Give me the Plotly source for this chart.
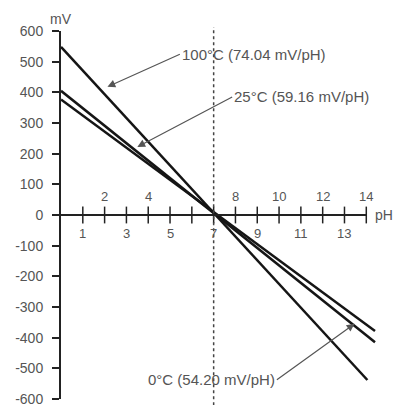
import plotly.graph_objects as go

# ---- data ----
series_names = ["100°C", "25°C", "0°C"]
series_ph = [[0, 14.05], [0, 14.4], [0, 14.4]]
series_mv = [[548, -538], [405, -415], [377, -378]]

y_ticks = [-600, -500, -400, -300, -200, -100, 0, 100, 200, 300, 400, 500, 600]
y_tick_labels = ["-600", "-500", "-400", "-300", "-200", "-100", "0",
                 "100", "200", "300", "400", "500", "600"]
x_ticks = list(range(1, 15))
x_labels_above = [2, 4, 8, 10, 12, 14]
x_labels_below = [1, 3, 5, 7, 9, 11, 13]

ann_texts = ["100°C (74.04 mV/pH)", "25°C (59.16 mV/pH)", "0°C (54.20 mV/pH)"]
ann_head_ph = [2.13, 3.5, 13.46]
ann_head_mv = [418, 222, -355]
ann_tail_ph = [5.45, 7.85, 9.9]
ann_tail_mv = [524, 385, -537]
ann_anchor = ["left", "left", "right"]

neutral_ph = 7

TXT = "#555555"
FONT = "Liberation Sans, Arial, sans-serif"

fig = go.Figure()

for name, xs, ys in zip(series_names, series_ph, series_mv):
    fig.add_trace(go.Scatter(x=xs, y=ys, mode="lines", name=name,
                             line=dict(color="#151515", width=2.5),
                             showlegend=False, hoverinfo="skip", cliponaxis=False))

# x axis drawn at mV = 0
fig.add_shape(type="line", x0=0, x1=14, y0=0, y1=0, xref="x", yref="y",
              line=dict(color="#222222", width=2))
fig.add_trace(go.Scatter(x=x_ticks, y=[0] * len(x_ticks), mode="markers",
                         marker=dict(symbol="line-ns", size=12,
                                     line=dict(color="#222222", width=1.5)),
                         showlegend=False, hoverinfo="skip", cliponaxis=False))

# dashed neutral line
fig.add_shape(type="line", x0=neutral_ph, x1=neutral_ph, y0=-0.017, y1=1.011,
              xref="x", yref="paper", line=dict(color="#444444", width=1.5, dash="dot"))

for v in x_labels_above:
    fig.add_annotation(x=v, y=0, text=str(v), showarrow=False, yshift=19,
                       font=dict(size=13, color=TXT, family=FONT))
for v in x_labels_below:
    fig.add_annotation(x=v, y=0, text=str(v), showarrow=False, yshift=-18,
                       font=dict(size=13, color=TXT, family=FONT))

fig.add_annotation(x=14.3, y=0, text="pH", showarrow=False, xanchor="left",
                   font=dict(size=14, color=TXT, family=FONT))
fig.add_annotation(x=0, y=1, yref="paper", text="mV", showarrow=False,
                   yanchor="middle", yshift=12,
                   font=dict(size=14, color=TXT, family=FONT))

for t, hx, hy, tx, ty, anc in zip(ann_texts, ann_head_ph, ann_head_mv,
                                  ann_tail_ph, ann_tail_mv, ann_anchor):
    fig.add_annotation(x=hx, y=hy, ax=tx, ay=ty, axref="x", ayref="y",
                       text=t, showarrow=True, arrowhead=2, arrowsize=1.3,
                       arrowwidth=1.2, arrowcolor="#555555", xanchor=anc,
                       standoff=0, startstandoff=0,
                       font=dict(size=15, color=TXT, family=FONT))

fig.update_xaxes(range=[0, 15.5], visible=False, fixedrange=True)
fig.update_yaxes(range=[-600, 600], tickvals=y_ticks, ticktext=y_tick_labels,
                 showline=True, ticklabeloverflow="allow",
                 linecolor="#222222", linewidth=2, ticks="outside", ticklen=7,
                 tickwidth=1.5, tickcolor="#222222", showgrid=False,
                 zeroline=False, ticklabelstandoff=6,
                 tickfont=dict(size=14, color=TXT, family=FONT))

# page body has an 8px margin: figure is offset to compensate
fig.update_layout(width=394, height=405, plot_bgcolor="white", paper_bgcolor="white",
                  margin=dict(l=53, r=3, t=23, b=14), showlegend=False)

fig.write_html("out.html")
